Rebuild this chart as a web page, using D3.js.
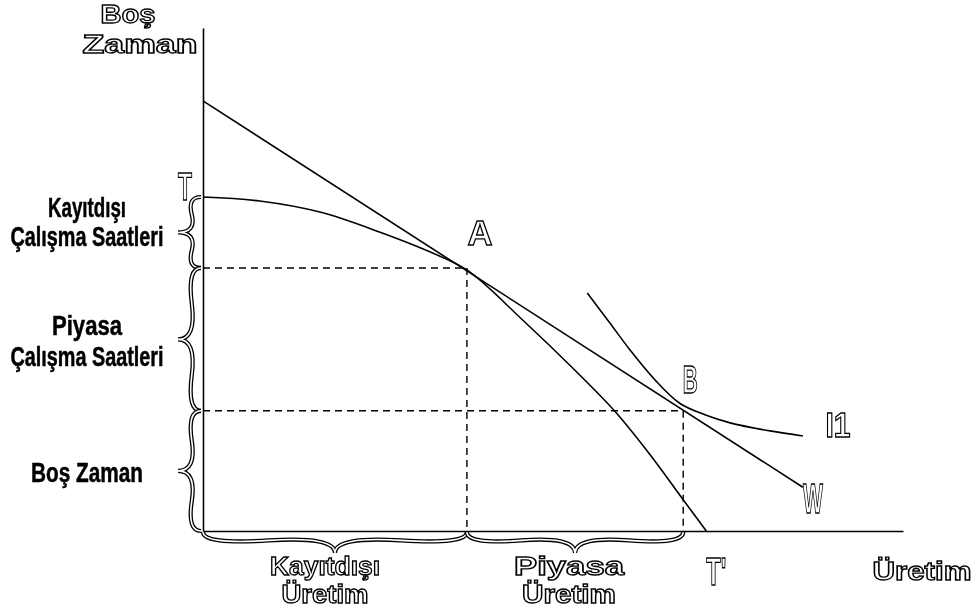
<!DOCTYPE html>
<html>
<head>
<meta charset="utf-8">
<script src="https://cdn.jsdelivr.net/npm/d3@7"></script>
<style>
  body { margin: 0; background: #fff; }
  svg { will-change: transform; }
  text { opacity: 0.999; }
  .outline { fill: #fff; stroke: #000; stroke-width: 1.3px; font-weight: bold; font-family: "Liberation Sans", Arial, sans-serif; }
  .solid { fill: #000; stroke: #000; stroke-width: 0.5px; font-family: "Liberation Sans Narrow", "Liberation Sans", Arial, sans-serif; font-weight: bold; }
</style>
</head>
<body>
<div id="chart"></div>
<script>
// ---- data (abstract units: production 0-100 on x, leisure 0-100 on y) ----
var budgetLine = [[0, 85.5], [85.7, 8.7]];                 // W
var ppfX = [0, 8.1, 16.7, 25.3, 32.4, 37.7, 45.7, 53.1, 58.9, 63.9, 68.6, 71.9];   // T - T'
var ppfY = [66.4, 65.6, 63.4, 59.4, 55.5, 51.9, 41.9, 32.0, 23.7, 15.1, 6.2, 0];
var indifX = [54.9, 58.1, 61.0, 64.6, 68.1, 71.7, 75.3, 81.0, 85.7];          // I1
var indifY = [47.3, 41.4, 36.0, 30.0, 25.4, 23.1, 21.5, 19.9, 18.9];
var pointA = [37.7, 52.3];
var pointB = [68.6, 23.9];
var leisureTop = 66.4;          // T
var axisTitles = { y: ["Boş", "Zaman"], x: "Üretim" };
var leftLabels = [["Kayıtdışı", "Çalışma Saatleri"], ["Piyasa", "Çalışma Saatleri"], ["Boş Zaman"]];
var bottomLabels = [["Kayıtdışı", "Üretim"], ["Piyasa", "Üretim"]];
var pointNames = ["A", "B", "T", "T'", "W", "I1"];

var width = 976, height = 611;
var svg = d3.select("#chart").append("svg")
    .attr("width", width)
    .attr("height", height);

var x = d3.scaleLinear().domain([0, 100]).range([203, 903]);
var y = d3.scaleLinear().domain([0, 100]).range([531, 28]);

// curly brace between two points, bulging to the right of the direction
function brace(x1, y1, x2, y2, w, q) {
  var dx = x1 - x2, dy = y1 - y2, len = Math.sqrt(dx * dx + dy * dy);
  dx /= len; dy /= len;
  var qx1 = x1 + q * w * dy, qy1 = y1 - q * w * dx;
  var qx2 = (x1 - .25 * len * dx) + (1 - q) * w * dy, qy2 = (y1 - .25 * len * dy) - (1 - q) * w * dx;
  var tx1 = (x1 - .5 * len * dx) + w * dy, ty1 = (y1 - .5 * len * dy) - w * dx;
  var qx3 = x2 + q * w * dy, qy3 = y2 - q * w * dx;
  var qx4 = (x1 - .75 * len * dx) + (1 - q) * w * dy, qy4 = (y1 - .75 * len * dy) - (1 - q) * w * dx;
  return "M" + x1 + "," + y1 + " Q" + qx1 + "," + qy1 + " " + qx2 + "," + qy2 + " T" + tx1 + "," + ty1 +
         " M" + x2 + "," + y2 + " Q" + qx3 + "," + qy3 + " " + qx4 + "," + qy4 + " T" + tx1 + "," + ty1;
}

function drawBrace(d) {
  svg.append("path").attr("d", d).attr("fill", "none").attr("stroke", "#000").attr("stroke-width", 4.2);
  svg.append("path").attr("d", d).attr("fill", "none").attr("stroke", "#fff").attr("stroke-width", 1.6);
}

// text helper: font size + fixed width
function label(txt, cx, base, size, len, cls) {
  svg.append("text")
    .attr("class", cls)
    .attr("x", cx)
    .attr("y", base)
    .attr("text-anchor", "middle")
    .attr("font-size", size)
    .attr("textLength", len)
    .attr("lengthAdjust", "spacingAndGlyphs")
    .text(txt);
}

// ---- dashed guide lines ----
var dash = svg.append("g").attr("stroke", "#000").attr("stroke-width", 1.4)
  .attr("stroke-dasharray", "7,5").attr("fill", "none");
[pointA, pointB].forEach(function(p) {
  dash.append("line").attr("x1", x(0)).attr("x2", x(p[0])).attr("y1", y(p[1])).attr("y2", y(p[1]));
  dash.append("line").attr("x1", x(p[0])).attr("x2", x(p[0])).attr("y1", y(p[1])).attr("y2", y(0));
});

// ---- braces ----
var yBreaks = [leisureTop, pointA[1], pointB[1], 0];
for (var i = 0; i < 3; i++) {
  drawBrace(brace(x(0) - 2, y(yBreaks[i]), x(0) - 2, y(yBreaks[i + 1]), 23, 0.6));
}
var xBreaks = [0, pointA[0], pointB[0]];
for (var j = 0; j < 2; j++) {
  drawBrace(brace(x(xBreaks[j]), y(0) + 1, x(xBreaks[j + 1]), y(0) + 1, 21, 0.6));
}

// ---- axes ----
var xAxis = d3.axisBottom(x).tickValues([]).tickSizeOuter(0);
var yAxis = d3.axisLeft(y).tickValues([]).tickSizeOuter(0);
svg.append("g").attr("transform", "translate(0," + y(0) + ")").call(xAxis)
  .select(".domain").attr("stroke", "#000").attr("stroke-width", 1.6);
svg.append("g").attr("transform", "translate(" + x(0) + ",0)").call(yAxis)
  .select(".domain").attr("stroke", "#000").attr("stroke-width", 1.6);

// ---- curves ----
var line = d3.line().x(function(d) { return x(d[0]); }).y(function(d) { return y(d[1]); });
var smooth = d3.line().x(function(d) { return x(d[0]); }).y(function(d) { return y(d[1]); })
  .curve(d3.curveCatmullRom.alpha(0.5));

svg.append("path").datum(budgetLine).attr("d", line)
  .attr("fill", "none").attr("stroke", "#000").attr("stroke-width", 1.6);
svg.append("path").datum(d3.zip(ppfX, ppfY)).attr("d", smooth)
  .attr("fill", "none").attr("stroke", "#000").attr("stroke-width", 1.6);
svg.append("path").datum(d3.zip(indifX, indifY)).attr("d", smooth)
  .attr("fill", "none").attr("stroke", "#000").attr("stroke-width", 1.6);

// ---- point / curve names ----
label(pointNames[0], x(pointA[0]) + 13, y(pointA[1]) - 23, 35, 25, "outline");
label(pointNames[1], x(pointB[0]) + 7, y(pointB[1]) - 18, 39, 15, "outline");
label(pointNames[2], x(0) - 18, y(leisureTop) + 3, 39, 14, "outline");
label(pointNames[3], x(ppfX[ppfX.length - 1]) + 10, y(0) + 54, 39, 20, "outline");
label(pointNames[4], x(budgetLine[1][0]) + 10, y(budgetLine[1][1]) + 26, 42, 20, "outline");
label(pointNames[5], x(indifX[indifX.length - 1]) + 35, y(indifY[indifY.length - 1]) + 1, 35, 25, "outline");

// ---- axis titles ----
label(axisTitles.y[0], 128, 23, 25, 55, "outline");
label(axisTitles.y[1], 140, 53, 25, 115, "outline");
label(axisTitles.x, 922, 580, 25, 99, "outline");

// ---- bottom labels ----
var bottomCx = [325, 569];
var bottomW = [[110, 87], [110, 94]];
bottomLabels.forEach(function(lines, k) {
  label(lines[0], bottomCx[k], 575, 25, bottomW[k][0], "outline");
  label(lines[1], bottomCx[k], 603, 25, bottomW[k][1], "outline");
});

// ---- left labels ----
var leftW = [[78, 153], [70, 153], [112]];
var leftBase = [[217, 246], [335, 366], [482]];
leftLabels.forEach(function(lines, k) {
  lines.forEach(function(t, m) {
    label(t, 87, leftBase[k][m], 27, leftW[k][m], "solid");
  });
});
</script>
</body>
</html>
